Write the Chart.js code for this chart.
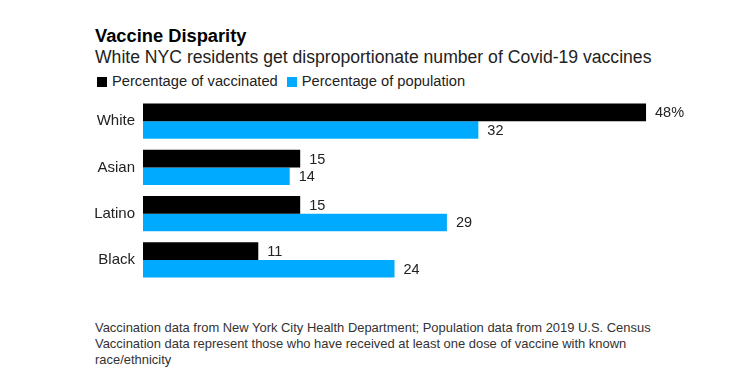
<!DOCTYPE html>
<html lang="en">
<head>
    <meta charset="UTF-8">
    <title>Vaccine Disparity</title>
    <style>
        body {
            margin: 0;
            width: 734px;
            height: 380px;
            background: #fff;
            font-family: 'Liberation Sans', Arial, sans-serif;
            color: #1a1a1a;
            position: relative;
            overflow: hidden;
        }
        .title {
            position: absolute;
            left: 95px;
            top: 24.5px;
            font-size: 18.3px;
            font-weight: bold;
            color: #000;
        }
        .subtitle {
            position: absolute;
            left: 95px;
            top: 46.5px;
            font-size: 17.6px;
            color: #222;
        }
        .legend {
            position: absolute;
            left: 97px;
            top: 73px;
            font-size: 14.7px;
            color: #222;
            white-space: nowrap;
        }
        .legend span.sw {
            display: inline-block;
            width: 10px;
            height: 10px;
            margin-right: 5px;
            vertical-align: -1px;
        }
        .legend .item {
            margin-right: 9px;
        }
        #chart {
            position: absolute;
            left: 0;
            top: 81px;
        }
        .footer {
            position: absolute;
            left: 95px;
            top: 320px;
            font-size: 12.95px;
            line-height: 16px;
            color: #333;
        }
    </style>
</head>
<body>
    <div class="title">Vaccine Disparity</div>
    <div class="subtitle">White NYC residents get disproportionate number of Covid-19 vaccines</div>
    <div class="legend" id="legend"></div>

    <canvas id="chart" width="734" height="219"></canvas>

    <div class="footer">
        Vaccination data from New York City Health Department; Population data from 2019 U.S. Census<br>
        Vaccination data represent those who have received at least one dose of vaccine with known<br>
        race/ethnicity
    </div>

    <script src="https://cdn.jsdelivr.net/npm/chart.js"></script>
    <script>
        // data
        const categories = ['White', 'Asian', 'Latino', 'Black'];
        const vaccinated = [48, 15, 15, 11];
        const population = [32, 14, 29, 24];
        const seriesNames = ['Percentage of vaccinated', 'Percentage of population'];
        const seriesColors = ['#000000', '#00abff'];

        // legend as plain html
        const legendEl = document.getElementById('legend');
        seriesNames.forEach(function (name, i) {
            const item = document.createElement('span');
            item.className = 'item';
            item.innerHTML = '<span class="sw" style="background:' + seriesColors[i] + '"></span>' + name;
            legendEl.appendChild(item);
        });

        // value labels at bar ends
        const valueLabels = {
            id: 'valueLabels',
            afterDatasetsDraw(chart) {
                const ctx = chart.ctx;
                ctx.save();
                ctx.font = '14.5px "Liberation Sans", Arial, sans-serif';
                ctx.fillStyle = '#222';
                ctx.textAlign = 'left';
                ctx.textBaseline = 'middle';
                chart.data.datasets.forEach(function (ds, di) {
                    chart.getDatasetMeta(di).data.forEach(function (bar, i) {
                        let txt = String(ds.data[i]);
                        if (di === 0 && i === 0) txt += '%';
                        ctx.fillText(txt, bar.x + 9, bar.y + 1);
                    });
                });
                ctx.restore();
            }
        };

        new Chart(document.getElementById('chart'), {
            type: 'bar',
            data: {
                labels: categories,
                datasets: [
                    { label: seriesNames[0], data: vaccinated, backgroundColor: seriesColors[0] },
                    { label: seriesNames[1], data: population, backgroundColor: seriesColors[1] }
                ]
            },
            options: {
                indexAxis: 'y',
                responsive: false,
                animation: false,
                layout: { padding: { left: 0, right: 67, top: 0, bottom: 0 } },
                datasets: {
                    bar: { barPercentage: 1, categoryPercentage: 0.76 }
                },
                plugins: {
                    legend: { display: false },
                    tooltip: { enabled: false }
                },
                scales: {
                    x: {
                        display: false,
                        min: 0,
                        max: 50
                    },
                    y: {
                        grid: { display: false, drawTicks: false },
                        border: { display: false },
                        ticks: {
                            color: '#222',
                            padding: 8,
                            font: { family: '"Liberation Sans", Arial, sans-serif', size: 15 }
                        },
                        afterFit: function (scale) { scale.width = 143; }
                    }
                }
            },
            plugins: [valueLabels]
        });
    </script>
</body>
</html>
